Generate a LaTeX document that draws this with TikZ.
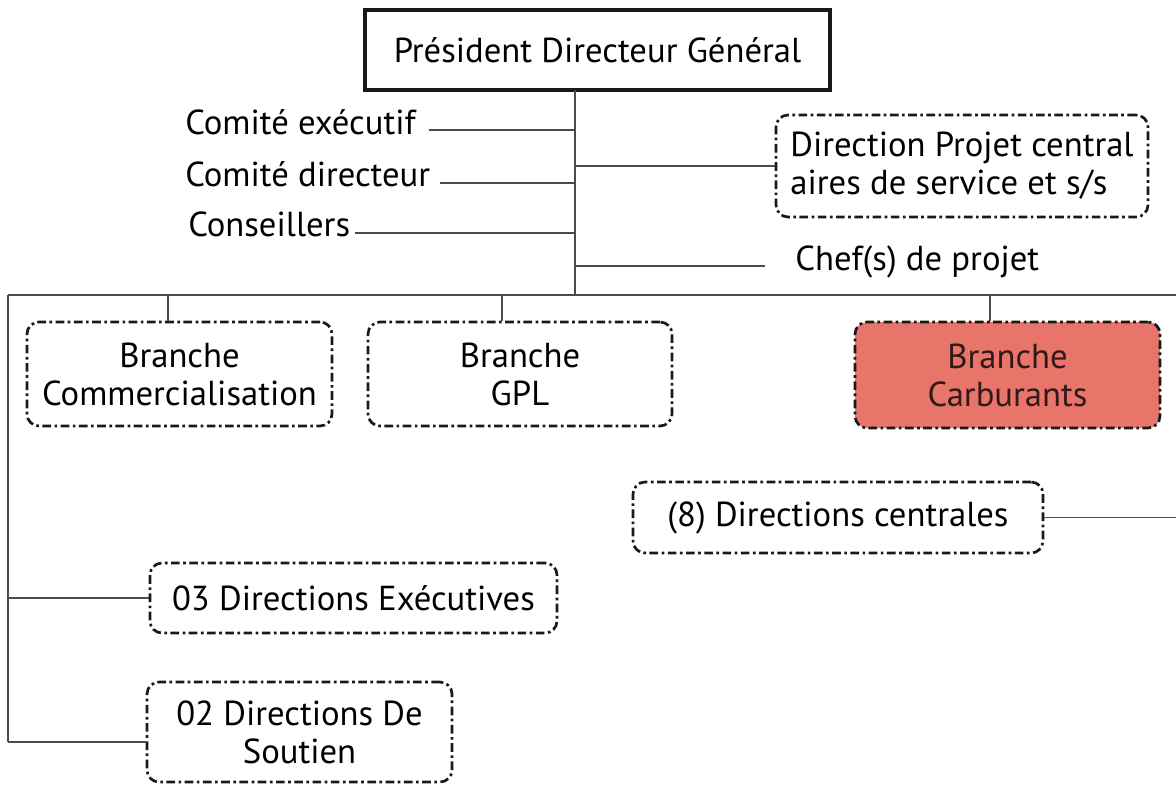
\documentclass[tikz,border=0pt]{standalone}
\usepackage{fontspec}
\setmainfont{PT Sans}
\begin{document}
\begin{tikzpicture}[x=0.75pt,y=-0.75pt,
  font=\fontsize{26}{28.5}\selectfont,
  link/.style={draw=black!70,line width=1.1pt},
  dbox/.style={draw=black!90,line width=2pt,rounded corners=9pt,
    dash pattern=on 6.5pt off 2.6pt on 2pt off 2.6pt,align=center,inner sep=0pt},
  topbox/.style={draw=black!90,line width=2.4pt,inner sep=0pt},
  lbl/.style={inner sep=0pt,anchor=west}]
\useasboundingbox (0,0) rectangle (1176,785);

% head of the organisation
\node[topbox,minimum width=465*0.75pt,minimum height=80*0.75pt] (pdg) at (597.5,50) {Président Directeur Général};

% staff attached to the trunk
\coordinate (top) at (575,90);
\coordinate (t1) at (575,130);
\coordinate (t2) at (575,166);
\coordinate (t3) at (575,183);
\coordinate (t4) at (575,233);
\coordinate (t5) at (575,266);
\coordinate (bus) at (575,295);

\node[lbl] (ce) at (185,122) {Comité exécutif};
\node[lbl] (cd) at (185,174) {Comité directeur};
\node[lbl] (cs) at (188,224) {Conseillers};
\node[lbl] (ch) at (795,262) {Chef(s) de projet};
\node[dbox,align=left,minimum width=372*0.75pt,minimum height=102*0.75pt] (dpc) at (962,166)
  {Direction Projet central\\aires de service et s/s};

\draw[link] (top) -- (bus);
\draw[link] (429,130) coordinate (c1) -- (t1);
\draw[link] (440,183) coordinate (c2) -- (t3);
\draw[link] (355,233) coordinate (c3) -- (t4);
\draw[link] (t2) -- (dpc.west |- t2);
\draw[link] (t5) -- (765,266) coordinate (c5);

% horizontal bus and left spine
\coordinate (busL) at (8,295);
\coordinate (busR) at (1176,295);
\coordinate (spineB) at (8,742);
\draw[link] (busL) -- (busR);
\draw[link] (busL) -- (spineB);

% branches
\node[dbox,minimum width=305*0.75pt,minimum height=104*0.75pt] (bc) at (179.5,374) {Branche\\Commercialisation};
\node[dbox,minimum width=304*0.75pt,minimum height=104*0.75pt] (gpl) at (520,374) {Branche\\GPL};
\node[dbox,fill={rgb,255:red,232;green,117;blue,106},text={rgb,255:red,50;green,25;blue,25},
  minimum width=305*0.75pt,minimum height=106*0.75pt] (carb) at (1007.5,375) {Branche\\Carburants};

\coordinate (k1) at (168,295);
\coordinate (k2) at (502,295);
\coordinate (k3) at (990,295);
\draw[link] (k1) -- (k1 |- bc.north);
\draw[link] (k2) -- (k2 |- gpl.north);
\draw[link] (k3) -- (k3 |- carb.north);

% directions
\node[dbox,minimum width=410*0.75pt,minimum height=71*0.75pt] (dc) at (838,517.5) {(8) Directions centrales};
\node[dbox,minimum width=407*0.75pt,minimum height=70*0.75pt] (de) at (353.5,598) {03 Directions Exécutives};
\node[dbox,minimum width=305*0.75pt,minimum height=100*0.75pt] (ds) at (299.5,732) {02 Directions De\\Soutien};

\coordinate (dcR) at (1176,517.5);
\draw[link] (dc.east) -- (dcR);
\draw[link] (8,598) coordinate (s1) -- (de.west);
\draw[link] (spineB) -- (ds.west |- spineB);
\end{tikzpicture}
\end{document}
